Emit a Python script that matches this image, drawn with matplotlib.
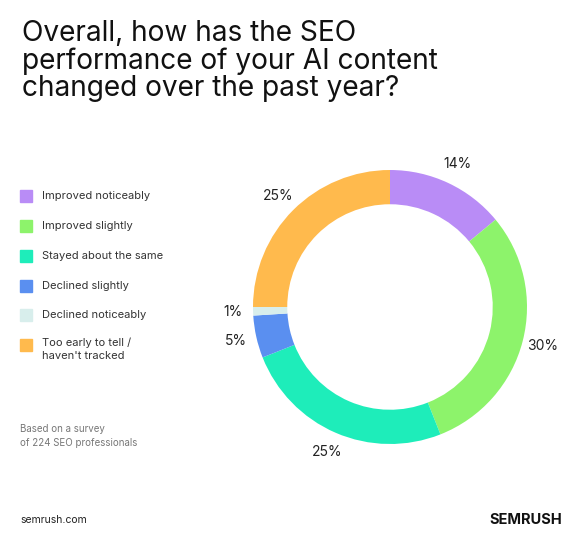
import numpy as np
import matplotlib.pyplot as plt
from matplotlib.patches import Rectangle

labels = ['Improved noticeably', 'Improved slightly', 'Stayed about the same',
          'Declined slightly', 'Declined noticeably', "Too early to tell /\nhaven't tracked"]
values = [14, 30, 25, 5, 1, 25]
colors = ['#B98CF6', '#8DF36B', '#1EEDBA', '#5A8FF0', '#D8EEEC', '#FFBA4D']

plt.rcParams['font.family'] = ['Inter', 'DejaVu Sans']
fig = plt.figure(figsize=(5.83, 5.48), dpi=100)
fig.patch.set_facecolor('white')

fig.text(22 / 583, 1 - 20 / 548,
         'Overall, how has the SEO\nperformance of your AI content\nchanged over the past year?',
         fontsize=20.2, va='top', ha='left', linespacing=1.02, color='#111111')

ax = fig.add_axes([253 / 583, 1 - 444 / 548, 274 / 583, 274 / 548])
wedges, _ = ax.pie(values, colors=colors, startangle=90, counterclock=False,
                   wedgeprops=dict(width=0.25, linewidth=0))
ax.set_xlim(-1, 1)
ax.set_ylim(-1, 1)
ax.set_aspect('equal')
for w, v in zip(wedges, values):
    ang = np.deg2rad((w.theta1 + w.theta2) / 2)
    r = 1.15
    ax.text(r * np.cos(ang), r * np.sin(ang), f'{v}%', ha='center', va='center',
            fontsize=10, color='#222222', clip_on=False)

ys = [196, 226, 256, 286, 315, 345]
for y, lab, c in zip(ys, labels, colors):
    fig.patches.append(Rectangle((20 / 583, 1 - (y + 6) / 548), 12 / 583, 12 / 548,
                                 transform=fig.transFigure, color=c))
    if '\n' in lab:
        fig.text(42 / 583, 1 - (y - 7) / 548, lab, fontsize=8, va='top',
                 ha='left', color='#333333', linespacing=1.3)
    else:
        fig.text(42 / 583, 1 - y / 548, lab, fontsize=8, va='center',
                 ha='left', color='#333333')

fig.text(20 / 583, 1 - 436 / 548, 'Based on a survey\nof 224 SEO professionals',
         fontsize=7, color='#777777', va='center', linespacing=1.4)
fig.text(20 / 583, 1 - 520 / 548, 'semrush.com', fontsize=7.5, color='#222222', va='center')
fig.text(562 / 583, 1 - 520 / 548, 'SEMRUSH', fontsize=10.5, fontweight='bold',
         color='#111111', va='center', ha='right')

fig.savefig('out.png', dpi=100)
